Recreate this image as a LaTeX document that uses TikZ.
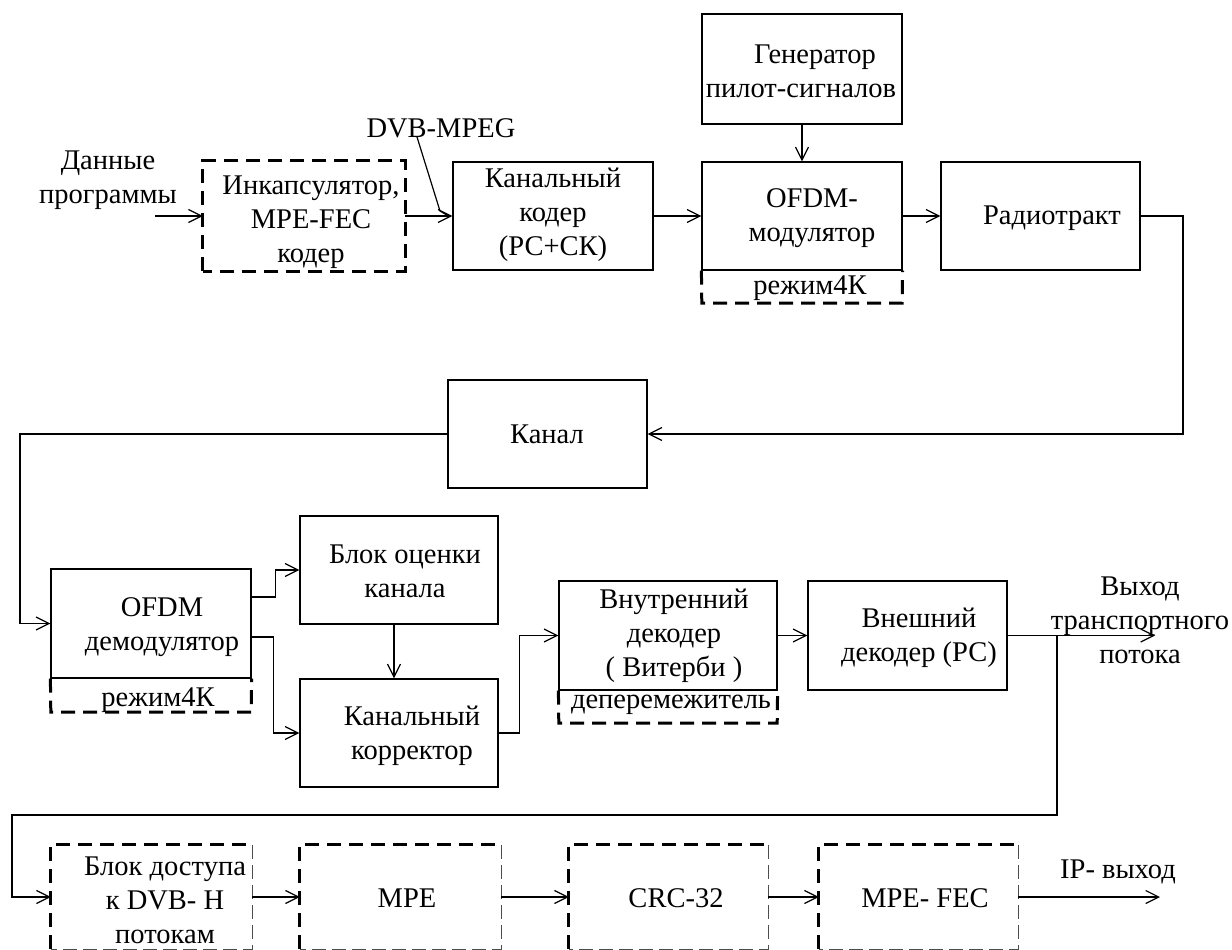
\documentclass[tikz,border=0pt]{standalone}
\usepackage{fontspec}
\setmainfont{Liberation Serif}
\usetikzlibrary{arrows.meta}
\begin{document}
\begin{tikzpicture}[x=1pt,y=-1pt,
  box/.style={draw,line width=1.2pt,inner sep=0pt},
  area/.style={inner sep=0pt},
  txt/.style={inner sep=0pt,align=center,font=\fontsize{28.5}{34}\selectfont},
  conn/.style={line width=1.2pt,-{Straight Barb[length=13pt,width=13pt]}},
  wire/.style={line width=1.2pt},
  heavydash/.style={line width=3pt,dash pattern=on 14pt off 8pt},
  lightdash/.style={line width=1.2pt,black!70,dash pattern=on 14pt off 6pt}]
\useasboundingbox (0,0) rectangle (1232,950);

% ---------- boxes ----------
\node[area,minimum width=202pt,minimum height=110pt] (enc) at (304,216) {};
\node[box,minimum width=200pt,minimum height=108pt] (coder) at (553,216) {};
\node[box,minimum width=200pt,minimum height=110pt] (gen) at (802,69) {};
\node[box,minimum width=200pt,minimum height=108pt] (mod) at (802,216) {};
\node[area,minimum width=200pt,minimum height=33pt] (mode1) at (802,286.5) {};
\node[box,minimum width=199pt,minimum height=108pt] (rad) at (1040.5,216) {};
\node[box,minimum width=199pt,minimum height=108pt] (kanal) at (547.5,434) {};
\node[box,minimum width=200pt,minimum height=109pt] (dem) at (151,623.5) {};
\node[area,minimum width=200pt,minimum height=34pt] (mode2) at (151,695) {};
\node[box,minimum width=198pt,minimum height=108pt] (est) at (399,570) {};
\node[box,minimum width=198pt,minimum height=108pt] (cor) at (399,733) {};
\node[box,minimum width=218pt,minimum height=109pt] (inner) at (668,635.5) {};
\node[area,minimum width=218pt,minimum height=33pt] (mode3) at (668,706.5) {};
\node[box,minimum width=199pt,minimum height=109pt] (outer) at (907.5,635.5) {};
\node[area,minimum width=201pt,minimum height=104pt] (acc) at (151.5,897) {};
\node[area,minimum width=201pt,minimum height=104pt] (mpe) at (400.5,897) {};
\node[area,minimum width=199pt,minimum height=104pt] (crc) at (668.5,897) {};
\node[area,minimum width=199pt,minimum height=104pt] (fec) at (918.5,897) {};

% dashed outlines
\draw[heavydash] (enc.south west) rectangle (enc.north east);
\draw[heavydash] (mod.south west) -- (mode1.south west) -- (mode1.south east) -- (mod.south east);
\draw[heavydash] (dem.south west) -- (mode2.south west) -- (mode2.south east) -- (dem.south east);
\draw[heavydash] (inner.south west) -- (mode3.south west) -- (mode3.south east) -- (inner.south east);
\foreach \b in {acc,mpe,crc,fec}{
  \draw[heavydash] (\b.south west) -- (\b.north west) -- (\b.north east);
  \draw[lightdash] (\b.north east) -- (\b.south east) -- (\b.south west);
}

% ---------- texts ----------
\node[txt] (dataT) at (108,180) {Данные\\программы};
\node[txt] (encT) at (311,222) {Инкапсулятор,\\MPE-FEC\\кодер};
\node[txt] (dvbT) at (441,128) {DVB-MPEG};
\node[txt] (coderT) at (553,215) {Канальный\\кодер\\(РС+СК)};
\node[txt] (genT) at (801,71) {\hspace*{28pt}Генератор\\пилот-сигналов};
\node[txt] (modT) at (812,218) {OFDM-\\модулятор};
\node[txt] (mode1T) at (810,288) {режим4К};
\node[txt] (radT) at (1052,218) {Радиотракт};
\node[txt] (kanalT) at (547,434) {Канал};
\node[txt] (demT) at (162,627) {OFDM\\демодулятор};
\node[txt] (mode2T) at (158,700) {режим4К};
\node[txt] (estT) at (405,571) {Блок оценки\\канала};
\node[txt] (corT) at (412,736) {Канальный\\корректор};
\node[txt] (innerT) at (674,636) {Внутренний\\декодер\\( Витерби )};
\node[txt] (mode3T) at (671,705) {деперемежитель};
\node[txt] (outerT) at (919,638) {Внешний\\декодер (РС)};
\node[txt] (vyhodT) at (1140,620) {Выход\\транспортного\\потока};
\node[txt] (accT) at (165,900) {Блок доступа\\к DVB- Н\\потокам};
\node[txt] (mpeT) at (407,898) {MPE};
\node[txt] (crcT) at (676,898) {CRC-32};
\node[txt] (fecT) at (925,898) {MPE- FEC};
\node[txt] (ipT) at (1118,872) {IP- выход};

% ---------- connectors ----------
\coordinate (inStart) at (155,216);
\draw[conn] (inStart) -- (enc.west);
\draw[conn] (enc.east) -- (coder.west);
\coordinate (dvbA) at (417,137);
\coordinate (dvbB) at (440,211);
\draw[wire] (dvbA) -- (dvbB) -- ([xshift=-4pt]coder.west);
\draw[conn] (coder.east) -- (mod.west);
\draw[conn] (gen.south) -- (mod.north);
\draw[conn] (mod.east) -- (rad.west);
\coordinate (rc) at (1183,434);
\draw[conn] (rad.east) -| (rc) -- (kanal.east);
\coordinate (lc) at (20,434);
\draw[conn] (kanal.west) -- (lc) |- (dem.west);
\draw[conn] ([yshift=26.5pt]dem.east) -- ++(24,0) |- (est.west);
\draw[conn] ([yshift=-13.5pt]dem.east) -- ++(22,0) |- (cor.west);
\draw[conn] ([xshift=-5pt]est.south) -- ([xshift=-5pt]cor.north);
\draw[conn] (cor.east) -- ++(21,0) |- (inner.west);
\draw[conn] (inner.east) -- (outer.west);
\coordinate (outEnd) at (1155,635.5);
\draw[conn] (outer.east) -- (outEnd);
\coordinate (br) at (1057,635.5);
\coordinate (bl) at (12,815);
\draw[conn] (br) |- (bl) |- (acc.west);
\draw[conn] (acc.east) -- (mpe.west);
\draw[conn] (mpe.east) -- (crc.west);
\draw[conn] (crc.east) -- (fec.west);
\coordinate (ipEnd) at (1160,897);
\draw[conn] (fec.east) -- (ipEnd);
\end{tikzpicture}
\end{document}
